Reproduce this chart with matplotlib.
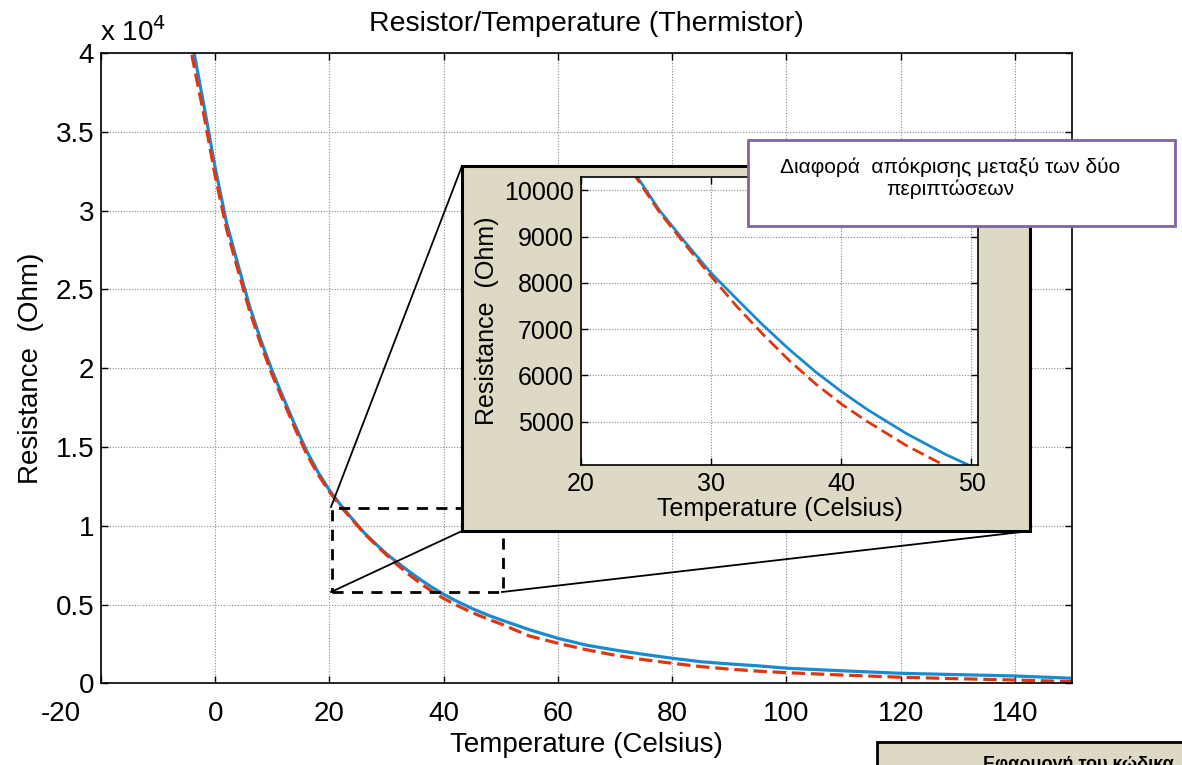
import matplotlib
matplotlib.use('Agg')
import matplotlib.pyplot as plt
import matplotlib.patches as patches
import matplotlib.lines as mlines
import matplotlib.transforms as mtransforms

plt.rcParams['font.family'] = ['Liberation Sans', 'DejaVu Sans']
plt.rcParams['axes.unicode_minus'] = False

# --- data ---
temp = [-5, -4, -2, 0, 2, 4, 6, 8, 10, 12, 14, 16, 18, 20, 22, 24, 26, 28,
        30, 32, 34, 36, 38, 40, 42, 45, 48, 50, 55, 60, 65, 70, 75, 80, 85,
        90, 95, 100, 110, 120, 130, 140, 150]
r_measured = [43300, 40600, 36700, 32700, 29200, 26550, 23950, 21750, 19800,
              18050, 16350, 14750, 13400, 12250, 11300, 10430, 9580, 8880,
              8210, 7640, 7080, 6560, 6080, 5650, 5260, 4740, 4290, 4030,
              3400, 2855, 2420, 2110, 1840, 1590, 1370, 1230, 1110, 960, 790,
              635, 550, 465, 320]
r_model = [42300, 39700, 36100, 32200, 28800, 26200, 23650, 21500, 19550,
           17850, 16150, 14550, 13250, 12150, 11200, 10380, 9540, 8830, 8140,
           7480, 6880, 6320, 5820, 5380, 5000, 4480, 4040, 3770, 3000, 2540,
           2130, 1780, 1500, 1270, 1060, 900, 770, 675, 520, 385, 290, 210,
           105]

main_xticks = [-20, 0, 20, 40, 60, 80, 100, 120, 140]
main_yticks = [0, 5000, 10000, 15000, 20000, 25000, 30000, 35000, 40000]
inset_xticks = [20, 30, 40, 50]
inset_yticks = [5000, 6000, 7000, 8000, 9000, 10000]

BLUE = '#1a8ad0'
RED = '#e0360f'
BEIGE = '#ddd9c4'
PURPLE = '#8064a2'
GRID = '#8a8a8a'

W, H = 1182, 765


def fx(px):
    return px / W


def fy(py):
    return 1 - py / H


def style_axes(ax, fs):
    ax.grid(True, linestyle=(0, (1, 1.5)), color=GRID, linewidth=0.8)
    ax.tick_params(direction='in', top=True, right=True, length=5,
                   width=1, labelsize=fs, colors='black', pad=5)
    for s in ax.spines.values():
        s.set_linewidth(1.2)


fig = plt.figure(figsize=(W / 100, H / 100), dpi=100)

# --- main axes ---
ax = fig.add_axes([fx(101), fy(683.3), (1072 - 101) / W, (683.3 - 53) / H])
ax.plot(temp, r_measured, color=BLUE, linewidth=2.3)
ax.plot(temp, r_model, color=RED, linewidth=2.3, linestyle=(0, (4.2, 1.8)))
ax.set_xlim(-20, 150)
ax.set_ylim(0, 40000)
ax.set_xticks(main_xticks)
ax.set_yticks(main_yticks)
ax.set_yticklabels(['%g' % (v / 1e4) for v in main_yticks])
style_axes(ax, 20)
ax.tick_params(axis='x', pad=13)
# MATLAB put the first x label further left
lbl0 = ax.get_xticklabels()[0]
lbl0.set_transform(lbl0.get_transform() +
                   mtransforms.ScaledTranslation(-0.4, 0, fig.dpi_scale_trans))
ax.set_xlabel('Temperature (Celsius)', fontsize=20, labelpad=3)
ax.set_ylabel('Resistance  (Ohm)', fontsize=20, labelpad=8)
ax.set_title('Resistor/Temperature (Thermistor)', fontsize=20.5, pad=16)
ax.text(-0.001, 1.01, 'x 10$^4$', transform=ax.transAxes, fontsize=20,
        ha='left', va='bottom')

# zoom region marker
ax.add_patch(patches.Rectangle((20.5, 5800), 29.9, 5320, fill=False,
                               edgecolor='black', linewidth=2,
                               linestyle=(0, (4, 3)), zorder=4))

# connector lines to the inset frame
for (x0, y0), (x1, y1) in [((331, 507), (462, 166)),
                           ((331, 592), (462, 531)),
                           ((502, 592), (1030, 531))]:
    fig.add_artist(mlines.Line2D([fx(x0), fx(x1)], [fy(y0), fy(y1)],
                                 color='black', linewidth=1.3, zorder=3))

# beige inset frame
fig.add_artist(patches.Rectangle((fx(462), fy(531)), (1030 - 462) / W,
                                 (531 - 166) / H, facecolor=BEIGE,
                                 edgecolor='black', linewidth=2.2, zorder=4))

# --- inset axes ---
axi = fig.add_axes([fx(581), fy(465), (978 - 581) / W, (465 - 177) / H])
axi.set_zorder(5)
axi.plot(temp, r_measured, color=BLUE, linewidth=2)
axi.plot(temp, r_model, color=RED, linewidth=2, linestyle=(0, (4.5, 2)))
axi.set_xlim(20, 50.5)
axi.set_ylim(4060, 10290)
axi.set_xticks(inset_xticks)
axi.set_yticks(inset_yticks)
style_axes(axi, 18)
axi.set_xlabel('Temperature (Celsius)', fontsize=18, labelpad=1)
axi.set_ylabel('Resistance  (Ohm)', fontsize=18, labelpad=4)

# annotation box
fig.add_artist(patches.Rectangle((fx(748), fy(226)), (1175 - 748) / W,
                                 (226 - 140) / H, facecolor='white',
                                 edgecolor=PURPLE, linewidth=2, zorder=6))
fig.text(fx(950), fy(178), 'Διαφορά  απόκρισης μεταξύ των δύο\nπεριπτώσεων',
         ha='center', va='center', fontsize=15, zorder=7, linespacing=1.15)

# cut-off note box at bottom right
fig.add_artist(patches.Rectangle((fx(877), fy(800)), (1250 - 877) / W,
                                 (800 - 742) / H, facecolor=BEIGE,
                                 edgecolor='black', linewidth=2, zorder=6))
fig.text(fx(983), fy(756), 'Εφαρμογή του κώδικα', ha='left', va='top',
         fontsize=13, fontweight='bold', zorder=7)

fig.savefig('out.png', dpi=100)
